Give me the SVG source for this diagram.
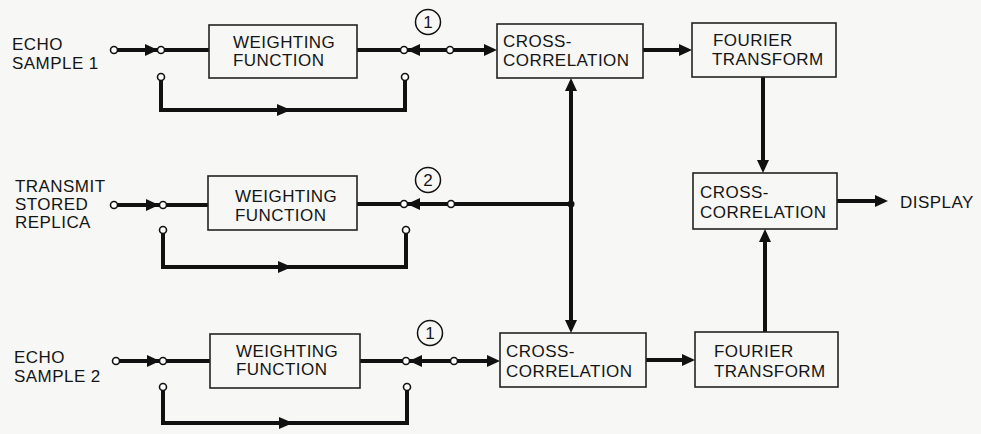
<svg xmlns="http://www.w3.org/2000/svg" width="981" height="434" viewBox="0 0 981 434">
<defs>
<style>
text{font-family:"Liberation Sans",Arial,sans-serif;font-size:17px;fill:#151515;letter-spacing:0.45px}
.box{fill:none;stroke:#222;stroke-width:1.6}
.wire{fill:none;stroke:#111;stroke-width:4;stroke-linejoin:miter}
.term{fill:#fff;stroke:#111;stroke-width:1.6}
.tag{fill:none;stroke:#111;stroke-width:1.5}
.arr{fill:#111}
.num{letter-spacing:0}
</style>
</defs>
<rect width="981" height="434" fill="#f7f7f5"/>

<g id="connectors">
<!-- top row -->
<line class="wire" x1="114" y1="50" x2="161" y2="50"/>
<path class="arr" d="M145,44 L158,50 L145,56 Z"/>
<line class="wire" x1="161" y1="50" x2="209" y2="50"/>
<polyline class="wire" points="161,79 161,110 405,110 405,79"/>
<path class="arr" d="M277,104 L291,110 L277,116 Z"/>
<line class="wire" x1="357" y1="50" x2="404" y2="50"/>
<line class="wire" x1="404" y1="50" x2="450" y2="50"/>
<path class="arr" d="M407,50 L420,44 L420,56 Z"/>
<line class="wire" x1="450" y1="50" x2="488" y2="50"/>
<path class="arr" d="M484,44 L497,50 L484,56 Z"/>
<line class="wire" x1="643" y1="50" x2="682" y2="50"/>
<path class="arr" d="M679,44 L692,50 L679,56 Z"/>
<line class="wire" x1="763" y1="77" x2="763" y2="164"/>
<path class="arr" d="M757,160 L763,173 L769,160 Z"/>

<!-- middle row -->
<line class="wire" x1="114" y1="205" x2="163" y2="205"/>
<path class="arr" d="M146,199 L159,205 L146,211 Z"/>
<line class="wire" x1="163" y1="205" x2="208" y2="205"/>
<polyline class="wire" points="163,232 163,267 406,267 406,232"/>
<path class="arr" d="M278,261 L292,267 L278,273 Z"/>
<line class="wire" x1="357" y1="204" x2="571" y2="204"/>
<path class="arr" d="M407,204 L420,198 L420,210 Z"/>
<circle cx="571" cy="204" r="3.5" fill="#111"/>
<line class="wire" x1="571" y1="88" x2="571" y2="323"/>
<path class="arr" d="M565,91 L571,78 L577,91 Z"/>
<path class="arr" d="M565,320 L571,333 L577,320 Z"/>
<line class="wire" x1="837" y1="201" x2="878" y2="201"/>
<path class="arr" d="M875,195 L888,201 L875,207 Z"/>
<line class="wire" x1="765" y1="332" x2="765" y2="239"/>
<path class="arr" d="M759,242 L765,229 L771,242 Z"/>

<!-- bottom row -->
<line class="wire" x1="116" y1="361" x2="163" y2="361"/>
<path class="arr" d="M147,355 L160,361 L147,367 Z"/>
<line class="wire" x1="163" y1="361" x2="210" y2="361"/>
<polyline class="wire" points="163,390 163,423 407,423 407,390"/>
<path class="arr" d="M279,417 L293,423 L279,429 Z"/>
<line class="wire" x1="360" y1="361" x2="454" y2="361"/>
<path class="arr" d="M409,361 L422,355 L422,367 Z"/>
<line class="wire" x1="454" y1="361" x2="490" y2="361"/>
<path class="arr" d="M487,355 L500,361 L487,367 Z"/>
<line class="wire" x1="646" y1="360" x2="685" y2="360"/>
<path class="arr" d="M682,354 L695,360 L682,366 Z"/>

<!-- terminals -->
<circle class="term" cx="114" cy="50" r="3.5"/>
<circle class="term" cx="161" cy="50" r="3.5"/>
<circle class="term" cx="161" cy="77" r="3.5"/>
<circle class="term" cx="404" cy="50" r="3.5"/>
<circle class="term" cx="405" cy="77" r="3.5"/>
<circle class="term" cx="450" cy="50" r="3.5"/>

<circle class="term" cx="114" cy="205" r="3.5"/>
<circle class="term" cx="163" cy="205" r="3.5"/>
<circle class="term" cx="163" cy="230" r="3.5"/>
<circle class="term" cx="404" cy="204" r="3.5"/>
<circle class="term" cx="406" cy="230" r="3.5"/>
<circle class="term" cx="451" cy="204" r="3.5"/>

<circle class="term" cx="116" cy="361" r="3.5"/>
<circle class="term" cx="163" cy="361" r="3.5"/>
<circle class="term" cx="163" cy="387" r="3.5"/>
<circle class="term" cx="406" cy="361" r="3.5"/>
<circle class="term" cx="407" cy="387" r="3.5"/>
<circle class="term" cx="454" cy="361" r="3.5"/>
</g>

<g id="tag1a">
<circle class="tag" cx="428" cy="22" r="12.5"/>
<text class="num" x="428" y="28" text-anchor="middle">1</text>
</g>
<g id="tag2">
<circle class="tag" cx="428" cy="180" r="12.5"/>
<text class="num" x="428" y="186" text-anchor="middle">2</text>
</g>
<g id="tag1b">
<circle class="tag" cx="430" cy="333" r="12.5"/>
<text class="num" x="430" y="339" text-anchor="middle">1</text>
</g>

<g id="label-echo1">
<text x="12" y="50">ECHO</text>
<text x="12" y="69">SAMPLE 1</text>
</g>
<g id="label-transmit">
<text x="15" y="192">TRANSMIT</text>
<text x="15" y="210">STORED</text>
<text x="15" y="228">REPLICA</text>
</g>
<g id="label-echo2">
<text x="14" y="363">ECHO</text>
<text x="14" y="382">SAMPLE 2</text>
</g>
<g id="label-display">
<text x="900" y="208">DISPLAY</text>
</g>

<g id="wf1">
<rect class="box" x="209" y="25" width="148" height="53"/>
<text x="233" y="48">WEIGHTING</text>
<text x="233" y="66">FUNCTION</text>
</g>
<g id="wf2">
<rect class="box" x="208" y="176" width="149" height="54"/>
<text x="235" y="202">WEIGHTING</text>
<text x="235" y="221">FUNCTION</text>
</g>
<g id="wf3">
<rect class="box" x="210" y="334" width="150" height="54"/>
<text x="236" y="357">WEIGHTING</text>
<text x="236" y="375">FUNCTION</text>
</g>

<g id="cc1">
<rect class="box" x="497" y="24" width="146" height="54"/>
<text x="503" y="47">CROSS-</text>
<text x="503" y="66">CORRELATION</text>
</g>
<g id="cc2">
<rect class="box" x="693" y="173" width="144" height="56"/>
<text x="700" y="198">CROSS-</text>
<text x="700" y="218">CORRELATION</text>
</g>
<g id="cc3">
<rect class="box" x="500" y="333" width="146" height="54"/>
<text x="506" y="357">CROSS-</text>
<text x="506" y="377">CORRELATION</text>
</g>

<g id="ft1">
<rect class="box" x="692" y="23" width="144" height="54"/>
<text x="713" y="46">FOURIER</text>
<text x="712" y="65">TRANSFORM</text>
</g>
<g id="ft2">
<rect class="box" x="695" y="332" width="143" height="55"/>
<text x="714" y="357">FOURIER</text>
<text x="714" y="377">TRANSFORM</text>
</g>
</svg>
